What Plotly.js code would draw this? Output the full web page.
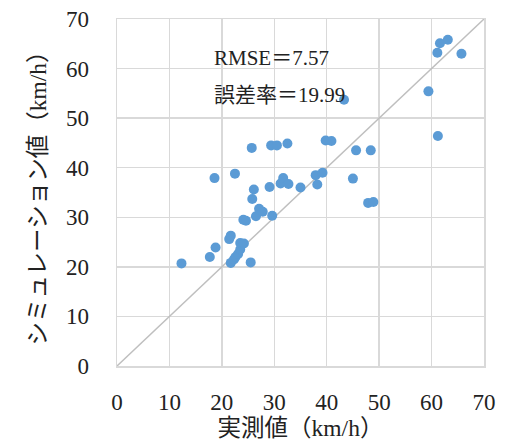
<!DOCTYPE html>
<html>
<head>
<meta charset="utf-8">
<script src="https://cdn.plot.ly/plotly-3.0.1.min.js"></script>
<style>html,body{margin:0;padding:0;background:#fff;}#chart{width:507px;height:443px;}</style>
</head>
<body>
<div id="chart"></div>
<script>
// 実測値 (km/h)
const observed = [12.3, 17.7, 18.8, 18.6, 21.4, 21.7, 21.7, 22.3, 22.6, 23.1, 23.5, 23.5, 24.2, 22.5, 24.1, 24.6, 25.5, 25.7, 25.8, 26.1, 26.5, 27.1, 27.8, 29.1, 29.4, 29.6, 30.5, 31.2, 31.7, 32.5, 32.7, 35.0, 37.9, 38.2, 39.2, 39.8, 40.9, 43.3, 45.0, 45.6, 47.9, 48.4, 48.9, 59.4, 61.1, 61.2, 61.6, 63.1, 65.7];
// シミュレーション値 (km/h)
const simulated = [20.7, 22.0, 23.9, 37.9, 25.6, 26.3, 20.8, 21.5, 22.0, 22.6, 23.5, 24.8, 24.7, 38.8, 29.5, 29.3, 20.9, 44.0, 33.7, 35.6, 30.2, 31.7, 31.1, 36.1, 44.5, 30.3, 44.5, 36.8, 37.9, 44.9, 36.7, 36.0, 38.5, 36.6, 39.0, 45.5, 45.4, 53.7, 37.8, 43.5, 32.9, 43.5, 33.1, 55.4, 63.2, 46.4, 65.1, 65.8, 63.0];
// y = x reference line
const refLineX = [0, 70];
const refLineY = [0, 70];
const tickVals = [0, 10, 20, 30, 40, 50, 60, 70];
const statLabels = ["RMSE＝7.57", "誤差率＝19.99"];
const statPosX = [18.1, 18.1];
const statPosY = [62.1, 54.7];

const FONT = "'Liberation Serif', 'Times New Roman', 'Noto Sans CJK JP', serif";
const traces = [
  {x: refLineX, y: refLineY, mode: 'lines', line: {color: '#BFBFBF', width: 1.5}, hoverinfo: 'skip', showlegend: false},
  {x: observed, y: simulated, mode: 'markers', marker: {color: '#5B9BD5', size: 10}, showlegend: false}
];
const axisCommon = {
  range: [0, 70], tickvals: tickVals, showgrid: true, gridcolor: '#D9D9D9', gridwidth: 1.5,
  showline: true, linecolor: '#D9D9D9', linewidth: 1.5, mirror: true, zeroline: false,
  ticks: '', tickfont: {family: FONT, size: 23, color: '#222'}, fixedrange: true
};
const layout = {
  width: 507, height: 443,
  margin: {l: 117, r: 23, t: 19, b: 76.5},
  paper_bgcolor: '#fff', plot_bgcolor: '#fff',
  font: {family: FONT, color: '#222'},
  xaxis: Object.assign({}, axisCommon, {ticklabelstandoff: 15, title: {text: '実測値（km/h）', font: {family: FONT, size: 23.5, color: '#222'}, standoff: 2}}),
  yaxis: Object.assign({}, axisCommon, {ticklabelstandoff: 22, title: {text: 'シミュレーション値（km/h）', font: {family: FONT, size: 23.5, color: '#222'}, standoff: 12}}),
  annotations: statLabels.map((t, i) => ({x: statPosX[i], y: statPosY[i], xref: 'x', yref: 'y', text: t, showarrow: false, xanchor: 'left', yanchor: 'middle', font: {family: FONT, size: 21, color: '#222'}}))
};
Plotly.newPlot('chart', traces, layout, {displayModeBar: false, staticPlot: true});
</script>
</body>
</html>
